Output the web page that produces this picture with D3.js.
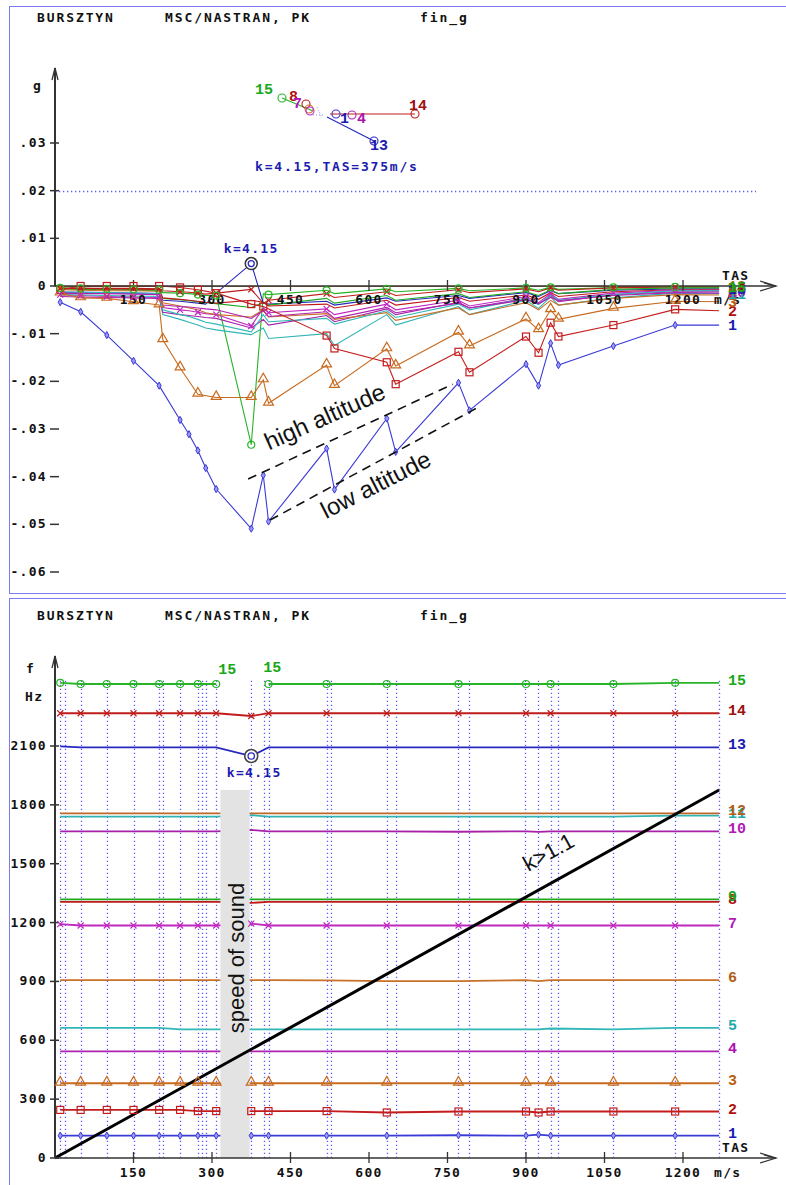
<!DOCTYPE html>
<html>
<head>
<meta charset="utf-8">
<script src="https://cdn.jsdelivr.net/npm/d3@7"></script>
<style>
  body { margin: 0; background: #fff; }
  svg { display: block; }
  .mono { font-family: "DejaVu Sans Mono", monospace; font-weight: bold; font-size: 13px; letter-spacing: 1.3px; fill: #111; }
  .lbl { font-family: "Liberation Mono", "DejaVu Sans Mono", monospace; font-weight: bold; font-size: 15px; }
  .note { font-family: "Liberation Sans", Arial, sans-serif; fill: #111; }
</style>
</head>
<body>
<div id="chart"></div>
<script>
// ---- data ----
const tasTop = [10, 49, 99, 150, 199, 206, 239, 256, 273, 288, 308, 375, 398, 408, 519, 534, 634, 651, 771, 792, 900, 924, 947, 962, 1067, 1185, 1269];
const topMarkTas = [10, 49, 99, 150, 199, 239, 273, 308, 375, 408, 519, 634, 771, 900, 947, 1067, 1185];

const gMode1  = [-.0034,-.0054,-.0103,-.0157,-.0209,null,-.0281,-.0311,-.0345,-.0382,-.0426,-.0509,-.0397,-.0494,-.0341,-.0427,-.0278,-.0348,-.0203,-.0261,-.0164,-.0209,-.0120,-.0166,-.0126,-.0082,-.0082];
const gMode2  = [-.0008,.0000,.0000,.0000,.0000,null,-.0003,null,-.0008,null,-.0015,-.0038,-.0043,null,-.0104,-.0131,-.0160,-.0206,-.0138,-.0181,-.0106,-.0140,-.0077,-.0106,-.0082,-.0049,-.0052];
const gMode3  = [-.0015,-.0025,-.0026,-.0033,-.0040,-.0113,-.0172,null,-.0227,null,-.0234,-.0234,-.0197,-.0246,-.0166,-.0209,-.0132,-.0168,-.0097,-.0126,-.0069,-.0092,-.0050,-.0070,-.0047,-.0032,-.0033];
const gMode4  = [-.0015,-.0016,-.0016,-.0017,-.0018,-.0040,-.0043,-.0044,-.0046,-.0048,-.0050,-.0068,-.0052,-.0064,-.0054,-.0068,-.0045,-.0056,-.0036,-.0046,-.0029,-.0037,-.0024,-.0031,-.0020,-.0014,-.0015];
const gMode5  = [-.0018,-.0019,-.0020,-.0021,-.0022,-.0050,-.0060,-.0064,-.0070,-.0076,-.0080,-.0096,-.0060,-.0075,-.0068,-.0080,-.0052,-.0066,-.0038,-.0050,-.0026,-.0039,-.0019,-.0030,-.0018,-.0010,-.0010];
const gMode6  = [-.0008,-.0009,-.0010,-.0010,-.0011,-.0035,-.0042,-.0046,-.0050,-.0056,-.0060,-.0065,-.0050,-.0065,-.0058,-.0070,-.0056,-.0072,-.0046,-.0060,-.0035,-.0050,-.0030,-.0040,-.0026,-.0018,-.0019];
const gMode7  = [-.0018,-.0020,-.0022,-.0023,-.0024,-.0045,-.0050,-.0052,-.0055,-.0058,-.0060,-.0084,-.0046,-.0056,-.0048,-.0060,-.0038,-.0050,-.0030,-.0042,-.0022,-.0035,-.0016,-.0028,-.0015,-.0009,-.0009];
const gMode8  = [-.0005,-.0005,-.0006,-.0006,-.0007,-.0025,-.0028,-.0030,-.0032,-.0034,-.0036,-.0030,-.0034,-.0042,-.0038,-.0046,-.0030,-.0040,-.0024,-.0032,-.0019,-.0028,-.0014,-.0022,-.0012,-.0008,-.0008];
const gMode9  = [-.0006,-.0007,-.0008,-.0009,-.0010,-.0026,-.0029,-.0031,-.0033,-.0035,-.0037,-.0045,-.0035,-.0040,-.0026,-.0036,-.0020,-.0030,-.0016,-.0024,-.0012,-.0020,-.0008,-.0016,-.0007,-.0004,-.0004];
const gMode10 = [-.0022,-.0023,-.0024,-.0025,-.0026,-.0055,-.0060,-.0062,-.0064,-.0066,-.0068,-.0088,-.0070,-.0082,-.0062,-.0075,-.0048,-.0060,-.0034,-.0046,-.0026,-.0038,-.0020,-.0033,-.0018,-.0012,-.0012];
const gMode11 = [-.0012,-.0013,-.0014,-.0015,-.0016,-.0060,-.0070,-.0076,-.0082,-.0088,-.0092,-.0102,-.0088,-.0110,-.0100,-.0125,-.0060,-.0082,-.0043,-.0060,-.0030,-.0047,-.0023,-.0040,-.0025,-.0015,-.0016];
const gMode12 = [-.0001,-.0001,-.0001,-.0001,-.0001,-.0001,-.0001,-.0001,-.0001,-.0001,-.0001,-.0001,-.0001,-.0001,-.0001,-.0001,-.0001,-.0001,-.0001,-.0001,-.0001,-.0001,-.0001,-.0001,-.0001,-.0001,-.0001];
const gMode13 = [-.0013,-.0013,-.0014,-.0015,-.0016,-.0030,-.0032,-.0034,-.0036,-.0038,-.0015,.0047,-.0036,-.0038,-.0032,-.0040,-.0025,-.0032,-.0020,-.0026,-.0014,-.0022,-.0010,-.0016,-.0009,-.0006,-.0006];
const gMode14 = [-.0006,-.0005,-.0005,-.0005,-.0006,-.0010,-.0012,-.0013,-.0015,-.0017,-.0015,-.0007,-.0036,-.0030,-.0016,-.0024,-.0012,-.0020,-.0008,-.0014,-.0006,-.0012,-.0004,-.0009,-.0004,-.0002,-.0002];
const gMode15 = [-.0004,-.0005,-.0006,-.0007,-.0008,-.0014,-.0015,-.0016,-.0018,-.0020,-.0020,-.0333,-.0016,-.0018,-.0009,-.0016,-.0006,-.0012,-.0005,-.0010,-.0004,-.0009,-.0003,-.0007,-.0003,-.0002,-.0002];
const dampingSeries = [gMode1, gMode2, gMode3, gMode4, gMode5, gMode6, gMode7, gMode8, gMode9, gMode10, gMode11, gMode12, gMode13, gMode14, gMode15];

const freqTas = [10, 49, 99, 150, 199, 239, 273, 308, 375, 408, 519, 634, 771, 900, 924, 947, 1067, 1185, 1269];
const freqMarkTas = [10, 49, 99, 150, 199, 239, 273, 308, 375, 408, 519, 634, 771, 900, 924, 947, 1067, 1185];
const fMode1  = [114,114,114,114,114,114,114,114,114,114,114,114,116,114,119,114,114,114,114];
const fMode2  = [245,245,245,245,245,245,239,239,239,239,239,232,237,237,232,237,237,237,237];
const fMode3  = [381,381,381,381,381,381,381,381,381,381,381,381,381,381,381,381,381,381,381];
const fMode4  = [543,543,543,543,543,543,543,543,543,543,543,543,543,543,543,543,543,543,543];
const fMode5  = [663,663,663,663,663,656,656,656,656,656,656,656,656,656,656,660,656,663,663];
const fMode6  = [907,907,907,907,907,907,907,907,907,907,905,902,902,907,902,907,907,907,907];
const fMode7  = [1192,1185,1185,1185,1185,1185,1185,1185,1195,1185,1185,1185,1185,1185,1185,1185,1185,1185,1185];
const fMode8  = [1306,1306,1306,1306,1306,1306,1306,1306,1300,1306,1306,1306,1306,1306,1306,1306,1306,1306,1306];
const fMode9  = [1318,1318,1318,1318,1318,1318,1318,1318,1318,1318,1318,1318,1318,1318,1318,1318,1318,1318,1318];
const fMode10 = [1665,1665,1665,1665,1665,1665,1665,1665,1672,1665,1665,1665,1663,1665,1662,1665,1665,1665,1665];
const fMode11 = [1740,1740,1740,1740,1740,1740,1740,1740,1748,1740,1740,1740,1740,1740,1740,1740,1740,1745,1745];
const fMode12 = [1757,1757,1757,1757,1757,1757,1757,1757,1757,1757,1757,1757,1757,1757,1757,1757,1757,1757,1757];
const fMode13 = [2098,2093,2093,2093,2093,2093,2093,2093,2049,2093,2093,2093,2093,2093,2093,2093,2093,2093,2093];
const fMode14 = [2267,2267,2267,2267,2267,2267,2267,2267,2253,2267,2267,2267,2267,2267,2267,2267,2267,2267,2267];
const fMode15 = [2422,2416,2416,2416,2416,2416,2416,2416,null,2416,2416,2416,2416,2416,2416,2416,2416,2422,2422];
const freqSeries = [fMode1, fMode2, fMode3, fMode4, fMode5, fMode6, fMode7, fMode8, fMode9, fMode10, fMode11, fMode12, fMode13, fMode14, fMode15];

const tasGrid = [10, 19, 49, 99, 150, 199, 206, 239, 273, 280, 289, 308, 375, 399, 408, 519, 527, 634, 651, 770, 791, 899, 923, 947, 961, 1066, 1185, 1269];
const tasTicks = [150, 300, 450, 600, 750, 900, 1050, 1200];
const gTicks = [0.03, 0.02, 0.01, 0, -0.01, -0.02, -0.03, -0.04, -0.05, -0.06];
const gTickLabels = [".03", ".02", ".01", "0", "-.01", "-.02", "-.03", "-.04", "-.05", "-.06"];
const fTicks = [0, 300, 600, 900, 1200, 1500, 1800, 2100];

const modeNames = ["1","2","3","4","5","6","7","8","9","10","11","12","13","14","15"];
const modeColors = ["#3a3ad6","#c41c1c","#c86a1e","#b020b0","#30b8b8","#c87028","#c028c0","#c01818","#20a820","#a820a8","#30b4b4","#c06828","#2828c0","#c01c1c","#28b428"];
const labelColors = ["#1c1cb0","#b01010","#b86010","#b010b0","#20a8a8","#b06018","#b018b8","#b01010","#18a018","#b018b8","#20a8a8","#b06018","#1c1cb0","#a01010","#18a818"];
const modeMarkers = ["diamond","square","triangle",null,null,null,"cross",null,null,null,null,null,null,"cross","circle"];

// flutter point k=4.15, TAS=375 m/s, and guide lines
const flutterTas = 375;
const soundBand = [316, 372];
const soundBandTop = 1876;
const kLine = [[0, 0], [1269, 1876]];
const highAltLine = [[369, -0.0405], [760, -0.0206]];
const lowAltLine = [[411, -0.0491], [806, -0.0256]];

// inset (zoomed root locus near the flutter point), own units
const insetMarks = [[13.5,4,14],[25.5,7,7],[27,9.5,5],[27.5,10.5,6],[40.5,12,0],[48.5,12.5,3],[80,12,13],[59.5,25.5,12]];
const insetLines = [[[13.5,4],[29,10.5],14],[[37.5,12],[80,12],13],[[36,13.5],[59.5,25.5],12]];
const insetLabels = [["15",0,2,14],["8",17,5.5,7],["7",19,9,6],["1",42.5,16.5,0],["4",51,16.5,3],["14",77,10,13],["13",57.5,30,12]];

// ---- drawing ----
const W = 786, H = 1185;
const svg = d3.select("#chart").append("svg").attr("width", W).attr("height", H);

svg.append("rect").attr("x", 9.5).attr("y", 6.5).attr("width", 800).attr("height", 587)
  .attr("fill", "none").attr("stroke", "#7c7cf0");
svg.append("rect").attr("x", 9.5).attr("y", 598.5).attr("width", 800).attr("height", 620)
  .attr("fill", "none").attr("stroke", "#7c7cf0");

function header(y){
  svg.append("text").attr("class", "mono").attr("x", 37).attr("y", y).style("letter-spacing", "1.9px").text("BURSZTYN");
  svg.append("text").attr("class", "mono").attr("x", 165).attr("y", y).style("letter-spacing", "1.9px").text("MSC/NASTRAN, PK");
  svg.append("text").attr("class", "mono").attr("x", 420).attr("y", y).style("letter-spacing", "1.9px").text("fin_g");
}

function marker(g, type, x, y, color){
  if(type === "circle"){
    g.append("circle").attr("cx", x).attr("cy", y).attr("r", 3.5).attr("fill", "none").attr("stroke", color).attr("stroke-width", 1.2);
  }else if(type === "square"){
    g.append("rect").attr("x", x - 3.5).attr("y", y - 3.5).attr("width", 7).attr("height", 7)
      .attr("fill", "none").attr("stroke", color).attr("stroke-width", 1.2);
  }else if(type === "triangle"){
    g.append("path").attr("d", d3.symbol(d3.symbolTriangle, 42)()).attr("transform", "translate(" + x + "," + (y - 1) + ")")
      .attr("fill", "none").attr("stroke", color).attr("stroke-width", 1.2);
  }else if(type === "cross"){
    g.append("path").attr("d", "M-3,-3L3,3M-3,3L3,-3").attr("transform", "translate(" + x + "," + y + ")")
      .attr("stroke", color).attr("stroke-width", 1.2);
  }else if(type === "diamond"){
    g.append("path").attr("d", d3.symbol(d3.symbolDiamond, 15)()).attr("transform", "translate(" + x + "," + y + ")")
      .attr("fill", "#9a9af4").attr("stroke", color).attr("stroke-width", 1);
  }
}

function axisArrows(g, x0, yTopPx, xEnd, y0){
  g.append("line").attr("x1", x0).attr("x2", x0).attr("y1", y0).attr("y2", yTopPx).attr("stroke", "#333").attr("stroke-width", 2);
  g.append("path").attr("d", "M" + (x0 - 3) + "," + (yTopPx + 12) + "L" + x0 + "," + yTopPx + "L" + (x0 + 3) + "," + (yTopPx + 12))
    .attr("fill", "none").attr("stroke", "#333").attr("stroke-width", 1.3);
  g.append("line").attr("x1", x0).attr("x2", xEnd).attr("y1", y0).attr("y2", y0).attr("stroke", "#333").attr("stroke-width", 1.6);
  g.append("path").attr("d", "M" + (xEnd - 16) + "," + (y0 - 5) + "L" + xEnd + "," + y0 + "L" + (xEnd - 16) + "," + (y0 + 5)
      + "M" + (xEnd - 12) + "," + (y0 - 3) + "L" + (xEnd - 2) + "," + y0)
    .attr("fill", "none").attr("stroke", "#333").attr("stroke-width", 1.3);
}

const x = d3.scaleLinear().domain([0, 1200]).range([55, 683]);

// ================= top panel: damping g =================
header(22);
const yTop = d3.scaleLinear().domain([-0.06, 0.03]).range([572, 143]);
const gTop = svg.append("g");

gTop.append("line").attr("x1", x(0)).attr("x2", 756).attr("y1", Math.round(yTop(0.02)) + 0.5).attr("y2", Math.round(yTop(0.02)) + 0.5)
  .attr("stroke", "#5a5aff").attr("stroke-width", 1.3).attr("stroke-dasharray", "1.3,2.7");

const lineTop = d3.line().x(d => x(d.t)).y(d => yTop(d.v));
for(let i = dampingSeries.length - 1; i >= 0; i--){
  const pts = tasTop.map((t, j) => ({t: t, v: dampingSeries[i][j]})).filter(d => d.v !== null);
  gTop.append("path").datum(pts).attr("d", lineTop).attr("fill", "none")
    .attr("stroke", modeColors[i]).attr("stroke-width", 1.1);
}

axisArrows(gTop, x(0), 68, 776, yTop(0));
gTicks.forEach((v, i) => {
  gTop.append("line").attr("x1", x(0) - 5).attr("x2", x(0) + 4).attr("y1", yTop(v)).attr("y2", yTop(v)).attr("stroke", "#333").attr("stroke-width", 1.5);
  gTop.append("text").attr("class", "mono").attr("x", 47).attr("y", yTop(v) + 4).attr("text-anchor", "end").text(gTickLabels[i]);
});
tasTicks.forEach(t => {
  gTop.append("line").attr("x1", x(t)).attr("x2", x(t)).attr("y1", yTop(0) - 6).attr("y2", yTop(0) + 5).attr("stroke", "#333").attr("stroke-width", 1.3);
  gTop.append("text").attr("class", "mono").attr("x", x(t)).attr("y", yTop(0) + 18).attr("text-anchor", "middle").text(t);
});
gTop.append("text").attr("class", "mono").attr("x", 33).attr("y", 90).text("g");
gTop.append("text").attr("class", "mono").attr("x", 722).attr("y", 280).text("TAS");
gTop.append("text").attr("class", "mono").attr("x", 714).attr("y", 304).text("m/s");

dampingSeries.forEach((vals, i) => {
  const type = modeMarkers[i];
  if(!type) return;
  const all = ["diamond", "square", "triangle"].includes(type);
  tasTop.forEach((t, j) => {
    if(vals[j] === null || j === tasTop.length - 1) return;
    if(!all && !topMarkTas.includes(t)) return;
    marker(gTop, type, x(t), yTop(vals[j]), modeColors[i]);
  });
});

dampingSeries.forEach((vals, i) => {
  gTop.append("text").attr("class", "lbl").attr("x", 728).attr("y", yTop(vals[vals.length - 1]) + 5)
    .attr("fill", labelColors[i]).text(modeNames[i]);
});

// flutter point
const kIdx = tasTop.indexOf(flutterTas);
gTop.append("circle").attr("cx", x(flutterTas)).attr("cy", yTop(gMode13[kIdx])).attr("r", 6).attr("fill", "#fff").attr("stroke", "#333").attr("stroke-width", 1.5);
gTop.append("circle").attr("cx", x(flutterTas)).attr("cy", yTop(gMode13[kIdx])).attr("r", 3).attr("fill", "none").attr("stroke", "#2828c0").attr("stroke-width", 1.3);
gTop.append("text").attr("class", "mono").attr("x", x(flutterTas)).attr("y", yTop(gMode13[kIdx]) - 11)
  .attr("text-anchor", "middle").style("fill", "#1c1cb0").text("k=4.15");

// altitude guides
[highAltLine, lowAltLine].forEach(l => {
  gTop.append("line").attr("x1", x(l[0][0])).attr("y1", yTop(l[0][1])).attr("x2", x(l[1][0])).attr("y2", yTop(l[1][1]))
    .attr("stroke", "#111").attr("stroke-width", 1.6).attr("stroke-dasharray", "9,6");
});
gTop.append("text").attr("class", "note").attr("text-anchor", "middle").style("font-size", "24px")
  .attr("transform", "translate(" + x(522) + "," + yTop(-0.0290) + ") rotate(-24)").text("high altitude");
gTop.append("text").attr("class", "note").attr("text-anchor", "middle").style("font-size", "24px")
  .attr("transform", "translate(" + x(620) + "," + yTop(-0.0432) + ") rotate(-27)").text("low altitude");

// inset
const ix = d3.scaleLinear().domain([0, 100]).range([255, 455]);
const iy = d3.scaleLinear().domain([0, 30]).range([90, 150]);
gTop.append("path").attr("d", "M" + ix(31) + "," + iy(8.5) + "L" + ix(33.5) + "," + iy(14) + "M" + ix(29) + "," + iy(12.5) + "L" + ix(35) + "," + iy(12.5))
  .attr("stroke", "#8a8af8").attr("stroke-dasharray", "1,2").attr("fill", "none");
insetLines.forEach(l => {
  gTop.append("line").attr("x1", ix(l[0][0])).attr("y1", iy(l[0][1])).attr("x2", ix(l[1][0])).attr("y2", iy(l[1][1]))
    .attr("stroke", modeColors[l[2]]).attr("stroke-width", 1.2);
});
insetMarks.forEach(m => {
  gTop.append("circle").attr("cx", ix(m[0])).attr("cy", iy(m[1])).attr("r", 4).attr("fill", "none")
    .attr("stroke", modeColors[m[2]]).attr("stroke-width", 1.1);
});
insetLabels.forEach(l => {
  gTop.append("text").attr("class", "lbl").attr("x", ix(l[1])).attr("y", iy(l[2]))
    .attr("fill", labelColors[l[3]]).text(l[0]);
});
gTop.append("text").attr("class", "mono").attr("x", 255).attr("y", 171).style("fill", "#1c1cb0").style("letter-spacing", "1.8px")
  .text("k=4.15,TAS=375m/s");

// ================= bottom panel: frequency =================
header(620);
const yBot = d3.scaleLinear().domain([0, 2100]).range([1158, 746]);
const gBot = svg.append("g");

tasGrid.forEach(t => {
  const px = Math.round(x(t)) + 0.5;
  gBot.append("line").attr("x1", px).attr("x2", px).attr("y1", yBot(0)).attr("y2", 678)
    .attr("stroke", "#5a5aff").attr("stroke-width", 1.3).attr("stroke-dasharray", "1.3,2.7");
});

const lineBot = d3.line().defined(d => d.v !== null).x(d => x(d.t)).y(d => yBot(d.v));
freqSeries.forEach((vals, i) => {
  const pts = freqTas.map((t, j) => ({t: t, v: vals[j]}));
  gBot.append("path").datum(pts).attr("d", lineBot).attr("fill", "none")
    .attr("stroke", modeColors[i]).attr("stroke-width", 1.8);
});

gBot.append("rect").attr("x", x(soundBand[0])).attr("y", yBot(soundBandTop))
  .attr("width", x(soundBand[1]) - x(soundBand[0])).attr("height", yBot(0) - yBot(soundBandTop)).attr("fill", "#e3e3e3");
gBot.append("text").attr("class", "note").attr("text-anchor", "middle").style("font-size", "22px")
  .attr("transform", "translate(" + (x((soundBand[0] + soundBand[1]) / 2) + 9) + "," + 958 + ") rotate(-90)").text("speed of sound");

gBot.append("line").attr("x1", x(kLine[0][0])).attr("y1", yBot(kLine[0][1])).attr("x2", x(kLine[1][0])).attr("y2", yBot(kLine[1][1]))
  .attr("stroke", "#000").attr("stroke-width", 3);
gBot.append("text").attr("class", "note").attr("text-anchor", "middle").style("font-size", "22px")
  .attr("transform", "translate(" + x(950) + "," + (yBot(1495) - 6) + ") rotate(-29)").text("k>1.1");

axisArrows(gBot, x(0), 656, 776, yBot(0));
fTicks.forEach(v => {
  gBot.append("line").attr("x1", x(0) - 5).attr("x2", x(0) + 4).attr("y1", yBot(v)).attr("y2", yBot(v)).attr("stroke", "#333").attr("stroke-width", 1.5);
  gBot.append("text").attr("class", "mono").attr("x", 47).attr("y", yBot(v) + 4).attr("text-anchor", "end").text(v);
});
tasTicks.forEach(t => {
  gBot.append("line").attr("x1", x(t)).attr("x2", x(t)).attr("y1", yBot(0) - 6).attr("y2", yBot(0) + 5).attr("stroke", "#333").attr("stroke-width", 1.3);
  gBot.append("text").attr("class", "mono").attr("x", x(t)).attr("y", yBot(0) + 19).attr("text-anchor", "middle").text(t);
});
gBot.append("text").attr("class", "mono").attr("x", 26).attr("y", 673).text("f");
gBot.append("text").attr("class", "mono").attr("x", 25).attr("y", 701).text("Hz");
gBot.append("text").attr("class", "mono").attr("x", 722).attr("y", 1152).text("TAS");
gBot.append("text").attr("class", "mono").attr("x", 714).attr("y", 1177).text("m/s");

freqSeries.forEach((vals, i) => {
  const type = modeMarkers[i];
  if(!type) return;
  freqTas.forEach((t, j) => {
    if(vals[j] === null || !freqMarkTas.includes(t)) return;
    if(t === 924 && i > 1) return;
    marker(gBot, type, x(t), yBot(vals[j]), modeColors[i]);
  });
});

freqSeries.forEach((vals, i) => {
  gBot.append("text").attr("class", "lbl").attr("x", 728).attr("y", yBot(vals[vals.length - 1]) + 2)
    .attr("fill", labelColors[i]).text(modeNames[i]);
});

// mode 15 gap labels and flutter point
const f15Left = freqTas.indexOf(308), f15Right = freqTas.indexOf(408);
gBot.append("text").attr("class", "lbl").attr("x", x(308) + 2).attr("y", yBot(fMode15[f15Left]) - 10).attr("fill", labelColors[14]).text("15");
gBot.append("text").attr("class", "lbl").attr("x", x(398)).attr("y", yBot(fMode15[f15Right]) - 12).attr("fill", labelColors[14]).text("15");
const fk = freqTas.indexOf(flutterTas);
gBot.append("circle").attr("cx", x(flutterTas)).attr("cy", yBot(fMode13[fk])).attr("r", 6.5).attr("fill", "#fff").attr("stroke", "#444").attr("stroke-width", 1.6);
gBot.append("circle").attr("cx", x(flutterTas)).attr("cy", yBot(fMode13[fk])).attr("r", 3.2).attr("fill", "none").attr("stroke", "#2828c0").attr("stroke-width", 1.3);
gBot.append("text").attr("class", "mono").attr("x", x(flutterTas) + 3).attr("y", yBot(fMode13[fk]) + 21)
  .attr("text-anchor", "middle").style("fill", "#1c1cb0").text("k=4.15");
</script>
</body>
</html>
